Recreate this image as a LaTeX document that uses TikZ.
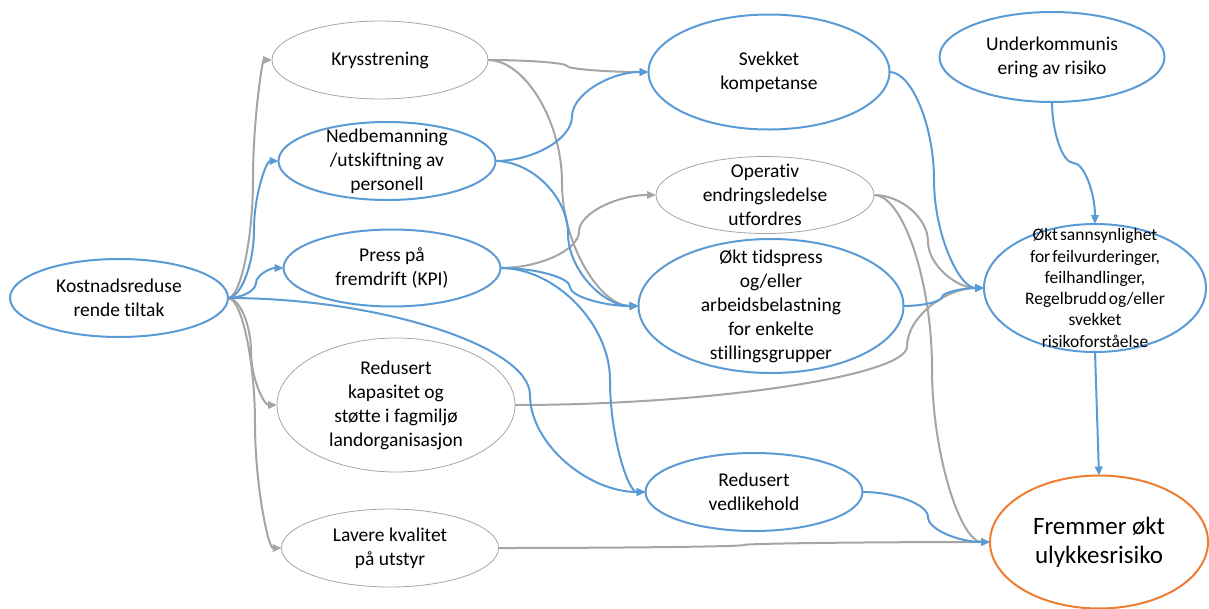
\documentclass[tikz,border=0pt]{standalone}
\usepackage{fontspec}
\setmainfont{Carlito}[Ligatures=NoCommon]
\usetikzlibrary{arrows.meta,calc,shapes.geometric}
\definecolor{lineblue}{HTML}{5B9BD5}
\definecolor{linegray}{HTML}{A5A5A5}
\definecolor{riskorange}{HTML}{ED7D31}

\begin{document}
\begin{tikzpicture}[
    x=1pt, y=-1pt,
    oval/.style={ellipse, inner sep=0pt, outer sep=0pt},
    blueoval/.style={oval, draw=lineblue, line width=2pt},
    grayoval/.style={oval, draw=linegray, line width=0.8pt},
    riskoval/.style={oval, draw=riskorange, line width=2pt},
    caption/.style={align=center, inner sep=0pt, font=\fontsize{19.5}{24}\selectfont},
    bluelink/.style={draw=lineblue, line width=2pt, -{Triangle[length=9pt,width=7.5pt]}},
    graylink/.style={draw=linegray, line width=2pt, -{Triangle[length=9pt,width=7.5pt]}},
    hbend/.style={to path={let \p1=(\tikztostart), \p2=(\tikztotarget) in
        .. controls ({(\x1+#1pt)/2},\y1) and (#1pt,{(3*\y1+\y2)/4})
        .. (#1pt,{(\y1+\y2)/2})
        .. controls (#1pt,{(\y1+3*\y2)/4}) and ({(#1pt+\x2)/2},\y2)
        .. (\tikztotarget)}},
    vbend/.style={to path={let \p1=(\tikztostart), \p2=(\tikztotarget) in
        .. controls (\x1,{(\y1-#1pt)/2}) and ({(3*\x1+\x2)/4},-#1pt)
        .. ({(\x1+\x2)/2},-#1pt)
        .. controls ({(\x1+3*\x2)/4},-#1pt) and (\x2,{(-#1pt+\y2)/2})
        .. (\tikztotarget)}}
]
\useasboundingbox (0,0) rectangle (1209,608);

% ovals
\node[blueoval, minimum width=218pt, minimum height=78pt] (kost) at (119,298) {};
\node[grayoval, minimum width=216pt, minimum height=78pt] (krys) at (380,60) {};
\node[blueoval, minimum width=217pt, minimum height=78pt] (ned) at (387,161) {};
\node[blueoval, minimum width=217pt, minimum height=77pt] (press) at (392,268) {};
\node[grayoval, minimum width=238pt, minimum height=134pt] (kap) at (396,405) {};
\node[grayoval, minimum width=217pt, minimum height=78pt] (lav) at (390,548) {};
\node[blueoval, minimum width=241pt, minimum height=115pt] (svek) at (769,72) {};
\node[grayoval, minimum width=218pt, minimum height=77pt] (oper) at (765,195) {};
\node[blueoval, minimum width=265pt, minimum height=134pt] (tids) at (771,306) {};
\node[blueoval, minimum width=217pt, minimum height=78pt] (vedl) at (754,492) {};
\node[blueoval, minimum width=225pt, minimum height=90pt] (under) at (1052,57) {};
\node[blueoval, minimum width=222pt, minimum height=128pt] (sann) at (1095,288) {};
\node[riskoval, minimum width=218pt, minimum height=133pt] (ulykke) at (1099,542) {};

% texts
\node[caption] (kost-t) at (kost) {Kostnadsreduse\\rende tiltak};
\node[caption] (krys-t) at (krys) {Krysstrening};
\node[caption] (ned-t) at (ned) {Nedbemanning\\/utskiftning av\\personell};
\node[caption] (press-t) at (press) {Press på\\fremdrift (KPI)};
\node[caption] (kap-t) at (kap) {Redusert\\kapasitet og\\støtte i fagmiljø\\landorganisasjon};
\node[caption] (lav-t) at (lav) {Lavere kvalitet\\på utstyr};
\node[caption] (svek-t) at (svek) {Svekket\\kompetanse};
\node[caption] (oper-t) at (oper) {Operativ\\endringsledelse\\utfordres};
\node[caption] (tids-t) at (tids) {Økt tidspress\\og/eller\\arbeidsbelastning\\for enkelte\\stillingsgrupper};
\node[caption] (vedl-t) at (vedl) {Redusert\\vedlikehold};
\node[caption] (under-t) at (under) {Underkommunis\\ering av risiko};
\node[caption, font={\fontsize{17.5}{21.3}\selectfont\spaceskip=0.12em\relax}] (sann-t) at (sann)
    {Økt sannsynlighet\\for feilvurderinger,\\feilhandlinger,\\Regelbrudd og/eller\\svekket\\risikoforståelse};
\node[caption, font=\fontsize{25}{29}\selectfont] (ulykke-t) at (ulykke) {Fremmer økt\\ulykkesrisiko};

% gray links
\draw[graylink] (kost.east) to[hbend=253] (krys.west);
\draw[graylink] (kost.east) to[hbend=251] (kap.west);
\draw[graylink] (kost.east) to[hbend=255] (lav.west);
\draw[graylink] (krys.east) to[hbend=567] (svek.west);
\draw[graylink] (krys.east) to[hbend=562] (tids.west);
\draw[graylink] (press.east) to[hbend=579] (oper.west);
\draw[graylink] (kap.east) to[hbend=907] (sann.west);
\draw[graylink] (lav.east) to[hbend=744] (ulykke.west);
\draw[graylink] (oper.east) to[hbend=928] (sann.west);
\draw[graylink] (oper.east) to[hbend=932] (ulykke.west);

% blue links
\draw[bluelink] (kost.east) to[hbend=254] (ned.west);
\draw[bluelink] (kost.east) to[hbend=256] (press.west);
\draw[bluelink] (kost.east) to[hbend=530] (vedl.west);
\draw[bluelink] (ned.east) to[hbend=572] (svek.west);
\draw[bluelink] (ned.east) to[hbend=568] (tids.west);
\draw[bluelink] (press.east) to[hbend=570] (tids.west);
\draw[bluelink] (press.east) to[hbend=610] (vedl.west);
\draw[bluelink] (svek.east) to[hbend=934] (sann.west);
\draw[bluelink] (tids.east) to[hbend=942] (sann.west);
\draw[bluelink] (vedl.east) to[hbend=928] (ulykke.west);
\draw[bluelink] (under.south) to[vbend=163] (sann.north);
\draw[bluelink] (sann.south) -- (ulykke.north);

\end{tikzpicture}
\end{document}
